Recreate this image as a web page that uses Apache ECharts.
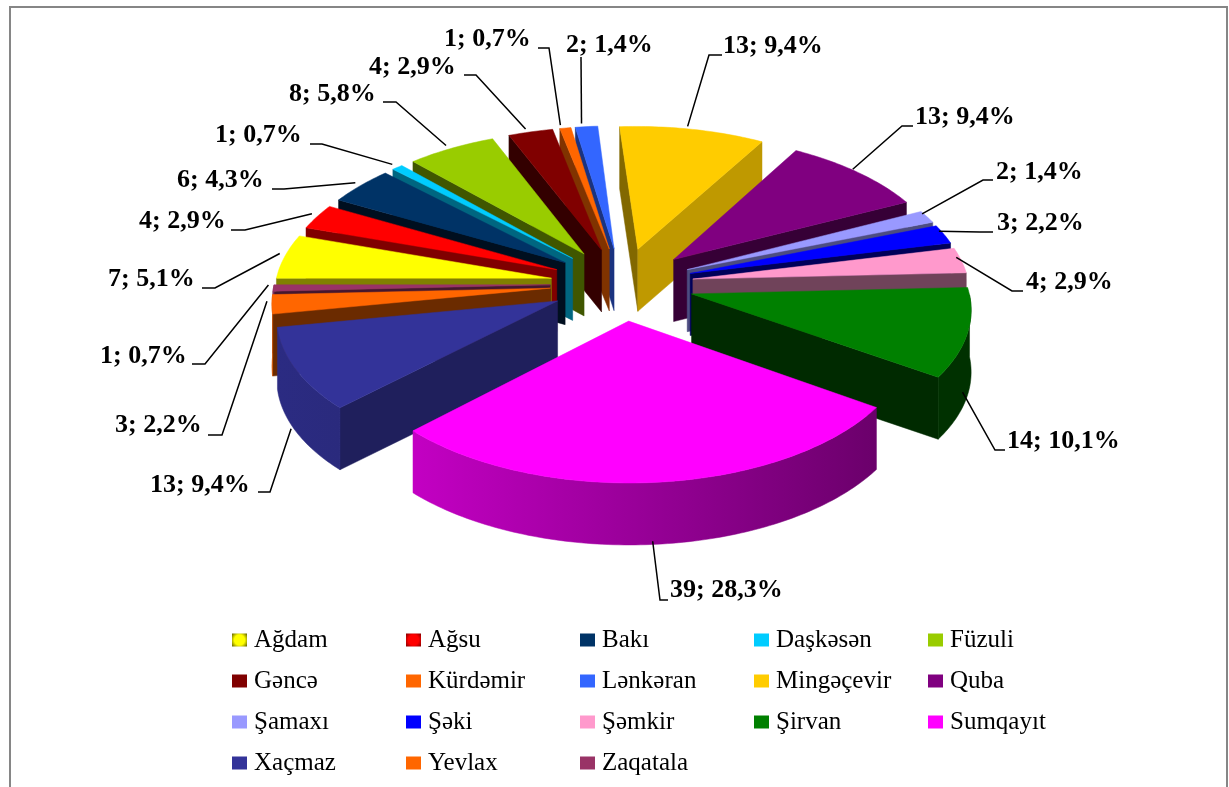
<!DOCTYPE html>
<html><head><meta charset="utf-8">
<style>html,body{margin:0;padding:0;background:#fff}#c{width:1229px;height:787px}</style>
<script src="https://cdn.jsdelivr.net/npm/echarts@6/dist/echarts.min.js"></script>
</head><body><div id="c"></div>
<script>
const categories = ['Ağdam','Ağsu','Bakı','Daşkəsən','Füzuli','Gəncə','Kürdəmir','Lənkəran','Mingəçevir','Quba','Şamaxı','Şəki','Şəmkir','Şirvan','Sumqayıt','Xaçmaz','Yevlax','Zaqatala'];
const values = [7,4,6,1,8,4,1,2,13,13,2,3,4,14,39,13,3,1];
const colors = ['#FFFF00','#FF0000','#003366','#00CCFF','#99CC00','#800000','#FF6600','#3366FF','#FFCC00','#800080','#9999FF','#0000FF','#FF99CC','#008000','#FF00FF','#333399','#FF6600','#993366'];
const wallShade = [.5,.5,.3,.5,.42,.4,.5,.5,.75,.42,.5,.35,.44,.33,.5,.6,.42,.45];

// label layout: text left, text mid y, then the leader's stub start and elbow
const labelLayout = [
 [108,279,202,288,215,288],[139,221,231,230,245,230],[177,180,272,189,284,189],[215,135,310,144,322,144],
 [289,94,383,102,396,102],[369,67,464,75,476,75],[444,39,538,48,549,48],[566,45,581,57,581,57],
 [723,46,722,55,709,55],[915,117,913,126,902,126],[996,172,993,180,983,180],[997,223,993,232,980,232],
 [1026,282,1023,291,1012,291],[1007,441,1005,450,995,450],[670,590,668,600,660,600],[150,485,258,492,270,492],
 [115,425,208,435,222,435],[100,356,192,364,205,364]];
const dropAnchor = [0,0,0,0,0,0,0,0,0,0,0,0,0,1,1,1,0,0];
const leaderShift = [-5,-3];

const G = {cx:622, cy:284, R:276, Ry:140, k:.0907, explode:.26, depth:62, start:270};
const total = values.reduce((a,b)=>a+b,0);
const RAD = Math.PI/180;
function project(u,v){const s=1/(1-G.k*v);return [G.cx+G.R*u*s,G.cy+G.Ry*v*s];}
function sliceAngles(i){let c=0;for(let j=0;j<i;j++)c+=values[j];
  return [G.start+c/total*360,G.start+(c+values[i])/total*360];}
function shadeColor(hex,f){const n=parseInt(hex.slice(1),16);
  return 'rgb('+[(n>>16)&255,(n>>8)&255,n&255].map(x=>Math.round(x*f)).join(',')+')';}
function rimPoint(i,a){const [a0,a1]=sliceAngles(i),m=(a0+a1)/2*RAD;
  return project(G.explode*Math.sin(m)+Math.sin(a*RAD),-G.explode*Math.cos(m)-Math.cos(a*RAD));}
function apexPoint(i){const [a0,a1]=sliceAngles(i),m=(a0+a1)/2*RAD;
  return project(G.explode*Math.sin(m),-G.explode*Math.cos(m));}
function drop(p){return [p[0],p[1]+G.depth];}
function centroid(i){const [a0,a1]=sliceAngles(i),m=(a0+a1)/2;
  const r=rimPoint(i,m),p=apexPoint(i);return [(p[0]+2*r[0])/3,(p[1]+2*r[1])/3];}
const order = categories.map((_,i)=>i).sort((a,b)=>centroid(a)[1]-centroid(b)[1]);
function xShade(x){const t=Math.max(0,Math.min(1,(x-300)/630));return .85+(.38-.85)*t;}

function renderSlice(params,api){
  const i=api.value(0), val=api.value(1), col=colors[i];
  const [a0,a1]=sliceAngles(i), rank=order.indexOf(i), base=(rank+1)*10;
  const apex=apexPoint(i), cen=centroid(i), kids=[];
  const arc=[];
  for(let a=a0;;a+=1){const t=Math.min(a,a1);arc.push([t,rimPoint(i,t)]);if(t>=a1)break;}
  const poly=(pts,fill,z)=>kids.push({type:'polygon',shape:{points:pts},z2:z,
      style:{fill:fill,stroke:fill,lineWidth:.5}});
  // radial walls: only the faces turned to the viewer
  [[a0,true],[a1,false]].forEach(([a,isStart])=>{
    const r=rimPoint(i,a), dx=r[0]-apex[0], dy=r[1]-apex[1];
    const yOnLine=Math.abs(dx)<1e-6?-1e9:apex[1]+(cen[0]-apex[0])*dy/dx;
    if(cen[1]<yOnLine){
      const f=isStart&&i===8?wallShade[i]*.68:wallShade[i];
      poly([apex,r,drop(r),drop(apex)],shadeColor(col,f),base+1);
    }
  });
  // outer wall on the front half of the rim
  const front=arc.filter(e=>{const n=((e[0]%360)+360)%360;return n>=90&&n<=270;}).map(e=>e[1]);
  if(front.length>1){
    const xs=front.map(p=>p[0]), x0=Math.min(...xs), x1=Math.max(...xs);
    const g=new echarts.graphic.LinearGradient(x0,0,Math.max(x1,x0+1),0,[
      {offset:0,color:shadeColor(col,xShade(x0))},{offset:1,color:shadeColor(col,xShade(x1))}],true);
    poly(front.concat(front.slice().reverse().map(drop)),g,base+2);
  }
  poly([apex].concat(arc.map(e=>e[1])),col,base+3);
  // label and leader
  const L=labelLayout[i], m=(a0+a1)/2, r=rimPoint(i,m), e0=dropAnchor[i]?drop(r):r;
  const end=[e0[0]+leaderShift[0],e0[1]+leaderShift[1]];
  kids.push({type:'polyline',shape:{points:[[L[2],L[3]],[L[4],L[5]],end]},z2:500,
      style:{stroke:'#000',lineWidth:1.5,fill:null}});
  const pct=(val/total*100).toFixed(1).replace('.',',');
  kids.push({type:'text',x:L[0],y:L[1],z2:501,
      style:{text:val+'; '+pct+'%',fill:'#000',font:'bold 26px "Liberation Serif"',align:'left',verticalAlign:'middle'}});
  return {type:'group',children:kids};
}

function bevel(inner,edge){return {type:'radial',x:.5,y:.5,r:.72,colorStops:[{offset:0,color:inner},{offset:.55,color:inner},{offset:1,color:edge}]};}
const legendItemStyle={'Ağdam':bevel('#FFFF00','#6b6b00'),'Ağsu':bevel('#FF0000','#8a0000')};
const legendCols=[232,406,580,754,928];
const legends=legendCols.map((x,c)=>({
  orient:'vertical',left:x,top:624,padding:0,itemWidth:15,itemHeight:13,itemGap:9,icon:'rect',selectedMode:false,
  data:categories.filter((_,i)=>i%5===c).map(n=>legendItemStyle[n]?{name:n,itemStyle:{color:legendItemStyle[n]}}:{name:n}),
  textStyle:{fontFamily:'Liberation Serif',fontSize:25,color:'#000',lineHeight:28,padding:[4,0,0,2]}
}));

const chart=echarts.init(document.getElementById('c'),null,{renderer:'canvas'});
chart.setOption({
  animation:false,backgroundColor:'#fff',tooltip:{show:false},
  legend:legends,
  graphic:[{type:'polyline',shape:{points:[[10,787],[10,7],[1227,7],[1227,787]]},
    style:{stroke:'#868686',lineWidth:2,fill:null},silent:true}],
  series:[
   {type:'pie',radius:[0,0],center:[G.cx,G.cy],silent:true,label:{show:false},labelLine:{show:false},
    data:categories.map((n,i)=>({name:n,value:values[i],itemStyle:{color:colors[i]}}))},
   {type:'custom',coordinateSystem:'none',silent:true,renderItem:renderSlice,
    data:values.map((v,i)=>[i,v])}
  ]
});
</script></body></html>
